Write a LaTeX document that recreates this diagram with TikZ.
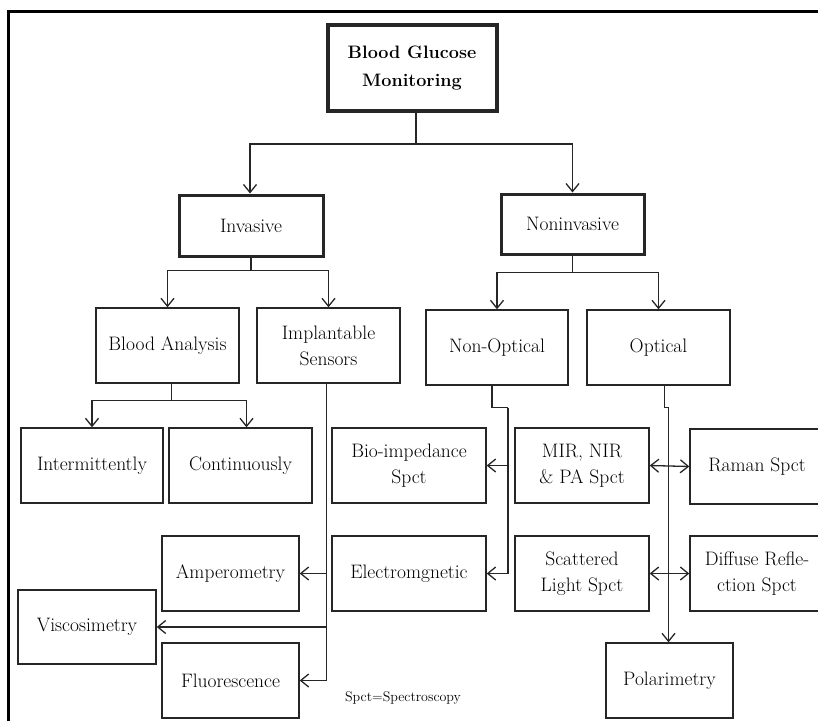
\documentclass[tikz,border=0pt]{standalone}
\usepackage{tikz}
\usetikzlibrary{arrows.meta, positioning}

\tikzset{
    box/.style={draw=black!85, line width=1.4pt, align=center, inner sep=2pt,
        font=\fontsize{19.5}{26}\selectfont},
    headbox/.style={box, line width=3pt},
    link/.style={draw=black!85, line width=1.3pt}
}

\begin{document}
\begin{tikzpicture}[x=1pt, y=-1pt, >={Straight Barb[length=8pt,width=13pt]}]
        \useasboundingbox (0,0) rectangle (818,721);

        % frame
        \draw[line width=3pt] (8,721) -- (8,11) -- (830,11);

        % top levels
        \node[headbox, line width=4pt, minimum width=169, minimum height=86,
            font=\fontsize{18}{28}\selectfont\bfseries] (bgm) at (412,68) {Blood Glucose\\Monitoring};
        \node[headbox, minimum width=144, minimum height=61] (inv) at (251,225.5) {Invasive};
        \node[headbox, minimum width=143, minimum height=60] (noninv) at (572.5,224) {Noninvasive};

        \node[box, minimum width=143, minimum height=75] (blood) at (167.5,345.5) {Blood Analysis};
        \node[box, minimum width=143, minimum height=75] (impl) at (328.5,345.5) {Implantable\\Sensors};
        \node[box, minimum width=142, minimum height=75] (nonopt) at (497,347.5) {Non-Optical};
        \node[box, minimum width=143, minimum height=75] (opt) at (658.5,347.5) {Optical};

        % leaves
        \node[box, minimum width=142, minimum height=75] (inter) at (92,465.5) {Intermittently};
        \node[box, minimum width=143, minimum height=75] (cont) at (240.5,465.5) {Continuously};
        \node[box, minimum width=154, minimum height=75] (bio) at (409,465.5) {Bio-impedance\\Spct};
        \node[box, minimum width=134, minimum height=75] (mir) at (582,465.5) {MIR, NIR\\\& PA Spct};
        \node[box, minimum width=134, minimum height=75] (raman) at (757,466.5) {Raman Spct};

        \node[box, minimum width=137, minimum height=75] (amp) at (230.5,573.5) {Amperometry};
        \node[box, minimum width=154, minimum height=75] (elec) at (409,573.5) {Electromgnetic};
        \node[box, minimum width=134, minimum height=75] (scat) at (582,573.5) {Scattered\\Light Spct};
        \node[box, minimum width=134, minimum height=75] (diff) at (757,573.5) {Diffuse Refle-\\ction Spct};

        \node[box, minimum width=138, minimum height=74] (visc) at (87,627) {Viscosimetry};
        \node[box, minimum width=137, minimum height=75] (fluo) at (230.5,680.5) {Fluorescence};
        \node[box, minimum width=127, minimum height=75] (pol) at (669.5,680.5) {Polarimetry};

        \node[font=\fontsize{14}{16}\selectfont] (note) at (403,698) {Spct=Spectroscopy};

        % branches
        \draw[link] ([xshift=4pt]bgm.south) -- ++(0,31) coordinate (split0);
        \draw[link,->] (split0) -| ([xshift=-1pt]inv.north);
        \draw[link,->] (split0) -| (noninv.north);

        \draw[link] (inv.south) -- ++(0,13) coordinate (split1);
        \draw[link,->] (split1) -| (blood.north);
        \draw[link,->] (split1) -| (impl.north);

        \draw[link] (noninv.south) -- ++(0,17) coordinate (split2);
        \draw[link,->] (split2) -| (nonopt.north);
        \draw[link,->] (split2) -| (opt.north);

        \draw[link] ([xshift=4pt]blood.south) -- ++(0,17) coordinate (split3);
        \draw[link,->] (split3) -| (inter.north);
        \draw[link,->] (split3) -| ([xshift=6pt]cont.north);

        % implantable
        \draw[link,->] ([xshift=-2pt]impl.south) |- (fluo.east);
        \draw[link,->] ([xshift=-2pt]impl.south |- amp.east) -- (amp.east);
        \draw[link,->] ([xshift=-2pt]impl.south |- visc.east) -- (visc.east);

        % non-optical
        \draw[link] ([xshift=-5pt]nonopt.south) -- ++(0,22) -- ++(16,0) coordinate (bend1);
        \draw[link,->] (bend1) |- (elec.east);
        \draw[link,->] (bend1 |- bio.east) -- (bio.east);

        % optical
        \draw[link] ([xshift=6pt]opt.south) -- ++(0,22) -- ++(4,0) coordinate (bend2);
        \draw[link,->] (bend2) -- (bend2 |- pol.north);
        \draw[link,<->] (mir.east) -- (raman.west);
        \draw[link,<->] (scat.east) -- (diff.west);
    \end{tikzpicture}
\end{document}
